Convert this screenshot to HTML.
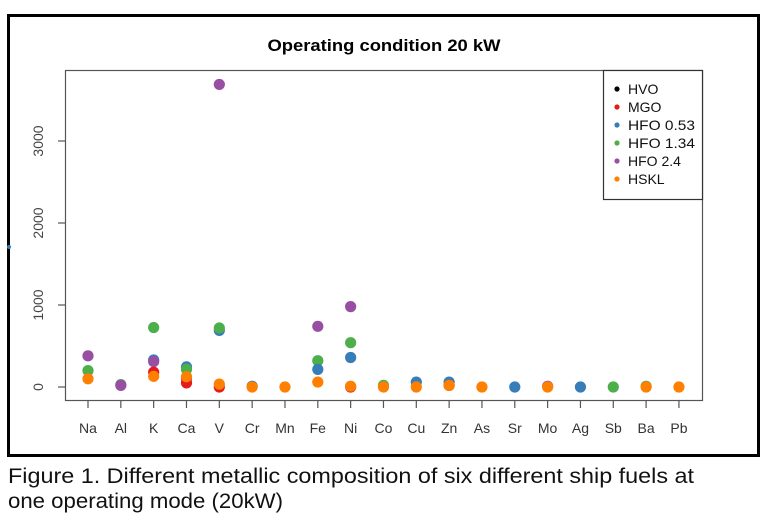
<!DOCTYPE html>
<html><head><meta charset="utf-8"><style>
html,body{margin:0;padding:0;background:#fff;}
svg{display:block;}
</style></head><body>
<svg width="768" height="523" viewBox="0 0 768 523" xmlns="http://www.w3.org/2000/svg" font-family="Liberation Sans, Arial, sans-serif">
<rect x="0" y="0" width="768" height="523" fill="#fff"/>
<rect x="8.5" y="15.5" width="750" height="440" fill="none" stroke="#000" stroke-width="3"/>
<text x="384" y="51" text-anchor="middle" font-size="17" font-weight="bold" fill="#000" textLength="233" lengthAdjust="spacingAndGlyphs">Operating condition 20 kW</text>
<rect x="65.5" y="70.5" width="637" height="330" fill="none" stroke="#555" stroke-width="1.2"/>
<g stroke="#555" stroke-width="1.2">
<line x1="58" y1="387" x2="65" y2="387"/>
<line x1="58" y1="305" x2="65" y2="305"/>
<line x1="58" y1="223" x2="65" y2="223"/>
<line x1="58" y1="141" x2="65" y2="141"/>
</g>
<g font-size="14" fill="#444" text-anchor="middle">
<text transform="translate(43,387) rotate(-90)">0</text>
<text transform="translate(43,305) rotate(-90)">1000</text>
<text transform="translate(43,223) rotate(-90)">2000</text>
<text transform="translate(43,141) rotate(-90)">3000</text>
</g>
<circle cx="9" cy="247" r="2" fill="#377EB8"/>
<g id="xt" stroke="#555" stroke-width="1.2"></g>
<g id="xl" font-size="14" fill="#333" text-anchor="middle"></g>
<g id="pts"></g>
<rect x="603.5" y="70.5" width="99" height="129" fill="#fff" stroke="#333" stroke-width="1.2"/>
<g font-size="14" fill="#111">
<circle cx="617" cy="89" r="2.6" fill="#000"/><text x="628" y="94">HVO</text>
<circle cx="617" cy="107" r="2.6" fill="#E41A1C"/><text x="628" y="112">MGO</text>
<circle cx="617" cy="125" r="2.6" fill="#377EB8"/><text x="628" y="130" textLength="67" lengthAdjust="spacingAndGlyphs">HFO 0.53</text>
<circle cx="617" cy="143" r="2.6" fill="#4DAF4A"/><text x="628" y="148" textLength="67" lengthAdjust="spacingAndGlyphs">HFO 1.34</text>
<circle cx="617" cy="161" r="2.6" fill="#984EA3"/><text x="628" y="166">HFO 2.4</text>
<circle cx="617" cy="179" r="2.6" fill="#FF7F00"/><text x="628" y="184">HSKL</text>
</g>
<text x="8" y="483" font-size="21" fill="#111" textLength="686" lengthAdjust="spacingAndGlyphs">Figure 1. Different metallic composition of six different ship fuels at</text>
<text x="8" y="508" font-size="21" fill="#111" textLength="275" lengthAdjust="spacingAndGlyphs">one operating mode (20kW)</text>
<script>
var labs=["Na","Al","K","Ca","V","Cr","Mn","Fe","Ni","Co","Cu","Zn","As","Sr","Mo","Ag","Sb","Ba","Pb"];
var ns="http://www.w3.org/2000/svg";
var xt=document.getElementById("xt"),xl=document.getElementById("xl"),pts=document.getElementById("pts");
function X(i){return 88+i*32.83;}
labs.forEach(function(l,i){
 var ln=document.createElementNS(ns,"line");ln.setAttribute("x1",X(i));ln.setAttribute("x2",X(i));ln.setAttribute("y1",400);ln.setAttribute("y2",408);xt.appendChild(ln);
 var t=document.createElementNS(ns,"text");t.setAttribute("x",X(i));t.setAttribute("y",433);t.textContent=l;xl.appendChild(t);
});
var R="#E41A1C",B="#377EB8",G="#4DAF4A",P="#984EA3",O="#FF7F00";
var data=[
[0,P,380],[0,G,200],[0,O,100],
[1,G,30],[1,P,20],
[2,G,725],[2,B,330],[2,P,310],[2,R,180],[2,O,130],
[3,B,245],[3,G,215],[3,P,100],[3,R,50],[3,O,125],
[4,P,3690],[4,B,690],[4,G,720],[4,R,0],[4,O,35],
[5,B,10],[5,O,0],
[6,O,0],
[7,P,740],[7,G,320],[7,B,215],[7,O,60],
[8,P,980],[8,G,540],[8,B,360],[8,R,0],[8,O,10],
[9,G,20],[9,O,0],
[10,B,60],[10,O,0],
[11,B,60],[11,R,20],[11,O,20],
[12,O,0],[13,B,0],[14,P,10],[14,O,0],[15,B,0],[16,G,0],[17,G,10],[17,O,0],[18,O,0]];
data.forEach(function(d){
 var c=document.createElementNS(ns,"circle");c.setAttribute("cx",X(d[0]));c.setAttribute("cy",387-d[2]*0.082);c.setAttribute("r",5.6);c.setAttribute("fill",d[1]);pts.appendChild(c);
});
</script>
</svg>
</body></html>
